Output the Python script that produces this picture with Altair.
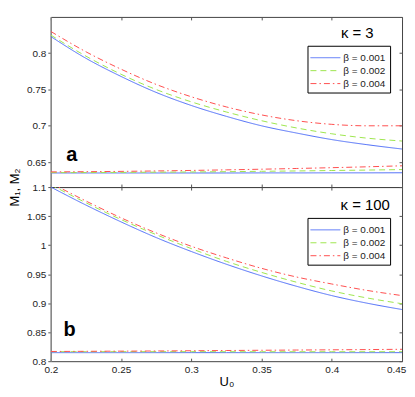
import altair as alt
import pandas as pd

# ---------------- data ----------------
u0 = [0.2, 0.225, 0.25, 0.275, 0.3, 0.325, 0.35, 0.375, 0.4, 0.425, 0.45]
betas = ["β = 0.001", "β = 0.002", "β = 0.004"]
colors = ["#4f6ef7", "#9ee64f", "#ff5050"]
dashes = [[1, 0], [6, 4], [6, 3, 1.5, 3]]
x_ticks = [0.2, 0.25, 0.3, 0.35, 0.4, 0.45]

# panel a: kappa = 3  (upper branch M1, lower branch M2)
a_upper_b1 = [0.823, 0.793, 0.768, 0.746, 0.728, 0.713, 0.700, 0.690, 0.681, 0.674, 0.668]
a_upper_b2 = [0.825, 0.796, 0.771, 0.750, 0.733, 0.719, 0.707, 0.697, 0.689, 0.683, 0.679]
a_upper_b4 = [0.830, 0.802, 0.778, 0.757, 0.740, 0.726, 0.715, 0.707, 0.702, 0.700, 0.700]
a_lower_b1 = [0.6350, 0.6350, 0.6350, 0.6350, 0.6350, 0.6350, 0.6351, 0.6351, 0.6352, 0.6352, 0.6353]
a_lower_b2 = [0.6355, 0.6356, 0.6358, 0.6361, 0.6364, 0.6368, 0.6373, 0.6378, 0.6384, 0.6390, 0.6397]
a_lower_b4 = [0.6365, 0.6368, 0.6372, 0.6378, 0.6385, 0.6393, 0.6402, 0.6412, 0.6423, 0.6435, 0.6449]
a_y_domain = [0.6156, 0.85]
a_y_ticks = [0.65, 0.7, 0.75, 0.8]

# panel b: kappa = 100
b_upper_b1 = [1.100, 1.069, 1.040, 1.013, 0.989, 0.967, 0.947, 0.929, 0.913, 0.900, 0.889]
b_upper_b2 = [1.104, 1.073, 1.044, 1.018, 0.994, 0.972, 0.953, 0.936, 0.921, 0.909, 0.899]
b_upper_b4 = [1.107, 1.076, 1.047, 1.021, 0.998, 0.978, 0.960, 0.945, 0.933, 0.922, 0.913]
b_lower_b1 = [0.8147, 0.8147, 0.8147, 0.8147, 0.8147, 0.8147, 0.8147, 0.8147, 0.8147, 0.8147, 0.8147]
b_lower_b2 = [0.8164, 0.8164, 0.8164, 0.8164, 0.8164, 0.8163, 0.8163, 0.8163, 0.8163, 0.8163, 0.8163]
b_lower_b4 = [0.8167, 0.8170, 0.8173, 0.8176, 0.8180, 0.8184, 0.8188, 0.8192, 0.8196, 0.8200, 0.8205]
b_y_domain = [0.8, 1.1]
b_y_ticks = [0.8, 0.85, 0.9, 0.95, 1.0, 1.05, 1.1]

FONT = "Liberation Sans"


def frame(series):
    rows = []
    for beta, branch, vals in series:
        for x, v in zip(u0, vals):
            rows.append({"u0": x, "m": v, "beta": beta, "branch": branch})
    return pd.DataFrame(rows)


df_a = frame([
    (betas[0], "M1", a_upper_b1), (betas[1], "M1", a_upper_b2), (betas[2], "M1", a_upper_b4),
    (betas[0], "M2", a_lower_b1), (betas[1], "M2", a_lower_b2), (betas[2], "M2", a_lower_b4),
])
df_b = frame([
    (betas[0], "M1", b_upper_b1), (betas[1], "M1", b_upper_b2), (betas[2], "M1", b_upper_b4),
    (betas[0], "M2", b_lower_b1), (betas[1], "M2", b_lower_b2), (betas[2], "M2", b_lower_b4),
])


def panel(df, h, y_dom, y_ticks, bottom_labels, y_title, leg_xy, kappa, kappa_xy, letter, letter_xy):
    legend = alt.Legend(
        title=None, orient="none", legendX=leg_xy[0], legendY=leg_xy[1],
        strokeColor="black", fillColor="white", padding=4,
        symbolType="M-2,0H2", symbolSize=225, symbolOffset=6, symbolStrokeWidth=1,
        labelOffset=10, labelFont=FONT, labelFontSize=10, labelColor="#222", rowPadding=0,
    )
    xscale = alt.Scale(domain=[0.2, 0.45], nice=False, zero=False)
    yscale = alt.Scale(domain=y_dom, nice=False, zero=False)
    yaxis_kw = dict(orient="left", values=y_ticks, format=".2~f", tickSize=3, labelPadding=2,
                    grid=False, domainColor="#888", domainWidth=1.5, labelFlush=False,
                    minExtent=24, maxExtent=24)
    if y_title:
        yaxis_kw.update(title=y_title, titleY=h, titlePadding=5)
    else:
        yaxis_kw.update(title=None)
    xaxis_kw = dict(orient="bottom", values=x_ticks, format=".2~f", offset=-3, tickSize=3,
                    domain=False, grid=False, labels=bottom_labels, labelPadding=3,
                    labelFlush=False, minExtent=0,
                    labelOffset={"condition": {"test": "datum.value > 0.44", "value": -6}, "value": 0})
    if bottom_labels:
        xaxis_kw.update(title="U₀", titlePadding=1)
    else:
        xaxis_kw.update(title=None, maxExtent=0)

    base = alt.Chart(df)
    lines = base.mark_line(clip=True, strokeWidth=1, interpolate="monotone").encode(
        x=alt.X("u0:Q", scale=xscale, axis=alt.Axis(**xaxis_kw)),
        y=alt.Y("m:Q", scale=yscale, axis=alt.Axis(**yaxis_kw)),
        color=alt.Color("beta:N", scale=alt.Scale(domain=betas, range=colors), legend=legend),
        strokeDash=alt.StrokeDash("beta:N", scale=alt.Scale(domain=betas, range=dashes), legend=legend),
        detail="branch:N",
        order="u0:Q",
    )
    ghost = base.mark_line(clip=True, opacity=0).encode(
        x=alt.X("u0:Q", axis=alt.Axis(orient="top", values=x_ticks, offset=-3, tickSize=3,
                                       domain=False, labels=False, title=None, grid=False,
                                       minExtent=0, maxExtent=0)),
        y=alt.Y("m:Q", axis=alt.Axis(orient="right", values=y_ticks, offset=-3, tickSize=3,
                                      domain=False, labels=False, title=None, grid=False,
                                      minExtent=0, maxExtent=0)),
        detail="branch:N",
    )
    ktext = alt.Chart(pd.DataFrame({"t": [kappa]})).mark_text(
        font=FONT, fontSize=15, color="black", align="center", baseline="middle"
    ).encode(x=alt.value(kappa_xy[0]), y=alt.value(kappa_xy[1]), text="t:N")
    ltext = alt.Chart(pd.DataFrame({"t": [letter]})).mark_text(
        font=FONT, fontSize=20, fontWeight="bold", color="black", align="center", baseline="middle"
    ).encode(x=alt.value(letter_xy[0]), y=alt.value(letter_xy[1]), text="t:N")
    return alt.layer(lines, ghost, ktext, ltext).properties(width=353, height=h)


top = panel(df_a, 171, a_y_domain, a_y_ticks, False, "M₁, M₂", (258, 29),
            "κ = 3", (308, 16), "a", (21, 139))
bottom = panel(df_b, 175, b_y_domain, b_y_ticks, True, None, (258, 31),
               "κ = 100", (316, 18), "b", (19, 144))

chart = (
    alt.vconcat(top, bottom, spacing=0, bounds="flush")
    .resolve_scale(color="independent", strokeDash="independent", y="independent")
    .resolve_legend(color="independent", strokeDash="independent")
    .properties(padding={"left": 0, "top": 7, "right": 0, "bottom": 0})
    .configure_view(stroke="#444", strokeWidth=1)
    .configure_axis(labelFont=FONT, labelFontSize=10, labelColor="#222", tickColor="#555",
                    titleFont=FONT, titleFontSize=13, titleFontWeight="normal", titleColor="black")
)

chart.save("out.html", embed_options={"renderer": "svg", "actions": False})
